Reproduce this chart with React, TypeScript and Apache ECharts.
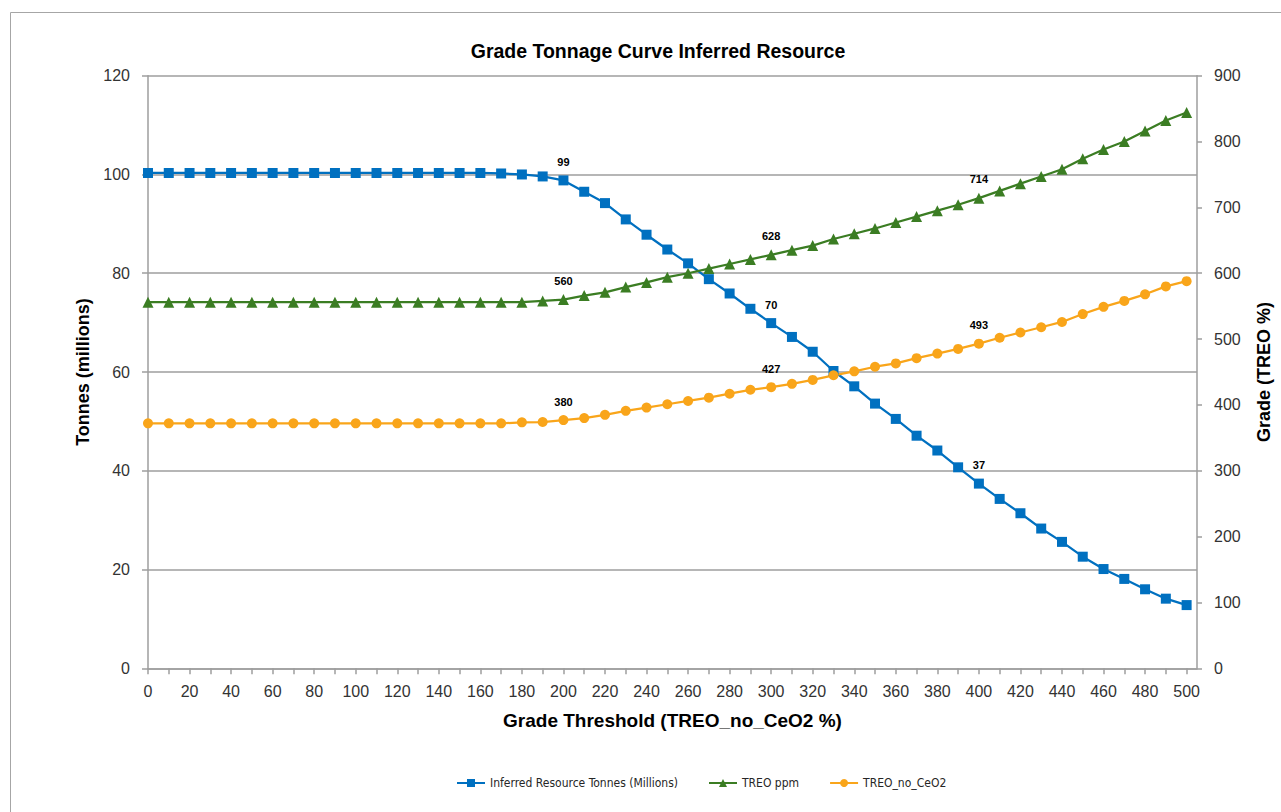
import React, { useEffect, useRef } from "react";
import * as echarts from "echarts";

const grades = [
  0, 10, 20, 30, 40, 50, 60, 70, 80, 90, 100, 110, 120, 130, 140, 150, 160, 170, 180, 190,
  200, 210, 220, 230, 240, 250, 260, 270, 280, 290, 300, 310, 320, 330, 340, 350, 360, 370,
  380, 390, 400, 410, 420, 430, 440, 450, 460, 470, 480, 490, 500,
];

const tonnes = [
  100.3, 100.3, 100.3, 100.3, 100.3, 100.3, 100.3, 100.3, 100.3, 100.3, 100.3, 100.3, 100.3,
  100.3, 100.3, 100.3, 100.3, 100.2, 100.0, 99.6, 98.8, 96.5, 94.2, 90.9, 87.8, 84.8, 82.0,
  78.8, 75.9, 72.8, 69.9, 67.1, 64.1, 60.2, 57.1, 53.6, 50.5, 47.1, 44.1, 40.7, 37.4, 34.3,
  31.4, 28.3, 25.6, 22.6, 20.1, 18.1, 16.0, 14.1, 12.8,
];

const treoPpm = [
  556, 556, 556, 556, 556, 556, 556, 556, 556, 556, 556, 556, 556, 556, 556, 556, 556, 556,
  556, 558, 560, 566, 571, 579, 586, 594, 600, 607, 614, 621, 628, 635, 642, 652, 660, 668,
  677, 686, 695, 704, 714, 725, 736, 747, 758, 774, 788, 800, 816, 832, 844,
];

const treoNoCeO2 = [
  372, 372, 372, 372, 372, 372, 372, 372, 372, 372, 372, 372, 372, 372, 372, 372, 372, 372,
  373.5, 374, 377, 380, 385, 391, 396, 401, 406, 411, 417, 423, 427, 432, 438, 445, 451, 458,
  463, 471, 478, 485, 493, 502, 510, 518, 526, 538, 549, 558, 568, 580, 588,
];

const labelGrades = [200, 300, 400];
const tonnesLabels = ["99", "70", "37"];
const ppmLabels = ["560", "628", "714"];
const noCeO2Labels = ["380", "427", "493"];

const xLabelValues = [
  0, 20, 40, 60, 80, 100, 120, 140, 160, 180, 200, 220, 240, 260, 280, 300, 320, 340, 360, 380,
  400, 420, 440, 460, 480, 500,
];

const seriesNames = ["Inferred Resource Tonnes (Millions)", "TREO ppm", "TREO_no_CeO2"];
const colors = ["#0070C0", "#3B7D23", "#F9A51A"];

const FONT = '"Liberation Sans", Arial, sans-serif';

function buildData(values: number[], labels: string[]) {
  return grades.map((g, i) => {
    const li = labelGrades.indexOf(g);
    if (li >= 0) {
      return { value: [g, values[i]], label: { show: true, formatter: labels[li] } };
    }
    return { value: [g, values[i]] };
  });
}

export default function App() {
  const ref = useRef<HTMLDivElement>(null);

  useEffect(() => {
    if (!ref.current) return;
    const chart = echarts.init(ref.current, undefined, { renderer: "svg" });
    const axisColor = "#9e9e9e";
    const labelStyle = {
      show: false,
      position: "top",
      distance: 8,
      fontFamily: FONT,
      fontWeight: "bold",
      fontSize: 11,
      color: "#000",
    };
    const mk = (idx: number, values: number[], labels: string[], symbol: string, yAxisIndex: number, size: number) => ({
      name: seriesNames[idx],
      type: "line",
      yAxisIndex,
      data: buildData(values, labels),
      symbol,
      symbolSize: size,
      showAllSymbol: true,
      lineStyle: { width: 2.25, color: colors[idx] },
      itemStyle: { color: colors[idx] },
      label: labelStyle,
      emphasis: { disabled: true },
    });

    chart.setOption({
      animation: false,
      textStyle: { fontFamily: FONT },
      grid: { left: 148, top: 75.7, right: 83, bottom: 143.7, containLabel: false },
      legend: {
        left: 451,
        top: 772,
        itemWidth: 28,
        itemHeight: 10,
        itemGap: 30,
        textStyle: { fontFamily: '"DejaVu Sans Condensed", "Liberation Sans Narrow", sans-serif', fontSize: 12, color: "#262626" },
        data: seriesNames,
      },
      xAxis: {
        type: "value",
        min: 0,
        max: 505,
        interval: 10,
        name: "Grade Threshold (TREO_no_CeO2 %)",
        nameLocation: "middle",
        nameGap: 43,
        nameTextStyle: { fontFamily: FONT, fontWeight: "bold", fontSize: 19, color: "#000" },
        axisLine: { show: true, lineStyle: { color: axisColor, width: 1.5 } },
        axisTick: { show: true, length: 6, lineStyle: { color: axisColor, width: 1.5 }, customValues: grades },
        axisLabel: { fontSize: 16, color: "#333", margin: 15, customValues: xLabelValues },
        splitLine: { show: false },
      },
      yAxis: [
        {
          type: "value",
          min: 0,
          max: 120,
          interval: 20,
          name: "Tonnes (millions)",
          nameLocation: "middle",
          nameGap: 56,
          nameTextStyle: { fontFamily: FONT, fontWeight: "bold", fontSize: 18, color: "#000" },
          axisLine: { show: true, lineStyle: { color: axisColor, width: 1.5 } },
          axisTick: { show: true, length: 6, lineStyle: { color: axisColor, width: 1.5 } },
          axisLabel: { fontSize: 16, color: "#333", margin: 18 },
          splitLine: { show: true, lineStyle: { color: axisColor, width: 1.5 } },
        },
        {
          type: "value",
          position: "right",
          min: 0,
          max: 900,
          interval: 100,
          name: "Grade (TREO %)",
          nameLocation: "middle",
          nameGap: 58,
          nameRotate: 90,
          nameTextStyle: { fontFamily: FONT, fontWeight: "bold", fontSize: 18, color: "#000" },
          axisLine: { show: true, lineStyle: { color: axisColor, width: 1.5 } },
          axisTick: { show: true, length: 5, lineStyle: { color: axisColor, width: 1.5 } },
          axisLabel: { fontSize: 16, color: "#333", margin: 17 },
          splitLine: { show: false },
        },
      ],
      graphic: [
        {
          type: "rect",
          silent: true,
          z: -10,
          shape: { x: 10.5, y: 12.5, width: 1320, height: 900 },
          style: { fill: "none", stroke: "#a6a6a6", lineWidth: 1 },
        },
        {
          type: "text",
          silent: true,
          x: 658,
          y: 51,
          style: {
            text: "Grade Tonnage Curve Inferred Resource",
            fontFamily: FONT,
            fontWeight: "bold",
            fontSize: 19.5,
            fill: "#000",
            align: "center",
            verticalAlign: "middle",
          },
        },
      ],
      series: [
        mk(0, tonnes, tonnesLabels, "rect", 0, 10),
        mk(1, treoPpm, ppmLabels, "triangle", 1, 11),
        mk(2, treoNoCeO2, noCeO2Labels, "circle", 1, 10),
      ],
    });
    return () => chart.dispose();
  }, []);

  return (
    <div
      ref={ref}
      style={{ position: "fixed", left: 0, top: 0, width: 1281, height: 812, background: "#fff" }}
    />
  );
}
